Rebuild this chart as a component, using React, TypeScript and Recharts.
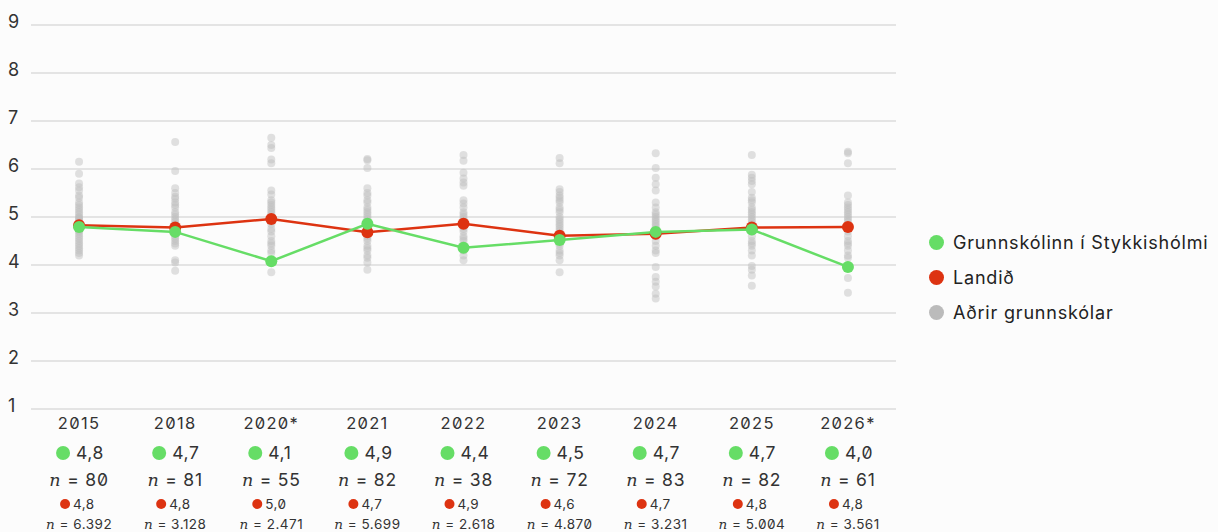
import React from 'react';
import { ComposedChart, Line, Scatter, XAxis, YAxis, CartesianGrid } from 'recharts';

const years = ['2015', '2018', '2020*', '2021', '2022', '2023', '2024', '2025', '2026*'];

const schoolValues = [4.79, 4.69, 4.08, 4.86, 4.36, 4.52, 4.69, 4.74, 3.96];
const schoolLabels = ['4,8', '4,7', '4,1', '4,9', '4,4', '4,5', '4,7', '4,7', '4,0'];
const schoolCounts = ['80', '81', '55', '82', '38', '72', '83', '82', '61'];

const nationValues = [4.83, 4.78, 4.96, 4.68, 4.86, 4.61, 4.65, 4.78, 4.79];
const nationLabels = ['4,8', '4,8', '5,0', '4,7', '4,9', '4,6', '4,7', '4,8', '4,8'];
const nationCounts = ['6.392', '3.128', '2.471', '5.699', '2.618', '4.870', '3.231', '5.004', '3.561'];

// other schools, one list per year
const otherSchools = [
  [6.15, 5.9, 5.7, 5.62, 5.55, 5.45, 5.4, 5.3, 5.25, 5.2, 5.15, 5.1, 5.05, 5.0, 4.98, 4.95, 4.9, 4.87, 4.85, 4.82, 4.8, 4.78, 4.75, 4.72, 4.7, 4.65, 4.6, 4.55, 4.5, 4.45, 4.4, 4.35, 4.3, 4.25, 4.2],
  [6.56, 5.96, 5.6, 5.5, 5.42, 5.38, 5.3, 5.25, 5.2, 5.1, 5.05, 5.0, 4.95, 4.9, 4.85, 4.8, 4.75, 4.7, 4.65, 4.6, 4.55, 4.5, 4.45, 4.4, 4.1, 4.05, 3.88],
  [6.65, 6.5, 6.44, 6.2, 6.12, 5.55, 5.47, 5.35, 5.3, 5.25, 5.2, 5.15, 5.1, 5.05, 5.0, 4.95, 4.9, 4.85, 4.75, 4.7, 4.6, 4.5, 4.45, 4.4, 4.3, 4.25, 4.05, 3.85],
  [6.21, 6.18, 6.02, 5.6, 5.5, 5.45, 5.35, 5.3, 5.2, 5.15, 5.1, 5.05, 5.0, 4.95, 4.9, 4.85, 4.8, 4.7, 4.6, 4.55, 4.5, 4.4, 4.35, 4.3, 4.2, 4.15, 4.05, 3.9],
  [6.29, 6.17, 5.92, 5.8, 5.72, 5.65, 5.35, 5.28, 5.2, 5.1, 5.05, 5.0, 4.95, 4.9, 4.85, 4.8, 4.75, 4.7, 4.6, 4.55, 4.5, 4.4, 4.3, 4.2, 4.1],
  [6.23, 6.12, 5.58, 5.52, 5.45, 5.4, 5.35, 5.3, 5.2, 5.15, 5.1, 5.0, 4.95, 4.9, 4.85, 4.8, 4.75, 4.7, 4.65, 4.6, 4.55, 4.5, 4.45, 4.4, 4.3, 4.25, 4.2, 4.1, 3.85],
  [6.33, 6.02, 5.82, 5.68, 5.55, 5.3, 5.2, 5.1, 5.05, 5.0, 4.95, 4.9, 4.85, 4.8, 4.75, 4.7, 4.65, 4.6, 4.5, 4.4, 4.3, 4.25, 3.96, 3.75, 3.65, 3.55, 3.4, 3.3],
  [6.29, 5.88, 5.82, 5.75, 5.68, 5.52, 5.4, 5.35, 5.3, 5.2, 5.15, 5.1, 5.05, 5.0, 4.95, 4.9, 4.85, 4.8, 4.75, 4.7, 4.6, 4.5, 4.45, 4.4, 4.3, 4.2, 3.98, 3.9, 3.78, 3.57],
  [6.36, 6.33, 6.12, 5.45, 5.3, 5.25, 5.2, 5.15, 5.1, 5.05, 5.0, 4.95, 4.9, 4.7, 4.6, 4.5, 4.45, 4.4, 4.3, 4.2, 4.15, 3.73, 3.42],
];

const yTicks = [1, 2, 3, 4, 5, 6, 7, 8, 9];

const legendItems = [
  { name: 'Grunnskólinn í Stykkishólmi', color: '#66dd66' },
  { name: 'Landið', color: '#dd3311' },
  { name: 'Aðrir grunnskólar', color: '#bbbbbb' },
];

const GREEN = '#66dd66';
const RED = '#dd3311';
const FONT = 'Inter, "Noto Sans", sans-serif';

const rows = years.map((year, i) => ({ i, year, school: schoolValues[i], nation: nationValues[i] }));
const grayPoints = otherSchools.flatMap((vals, i) => vals.map((v) => ({ i, v })));

const NItalic = () => (
  <tspan fontStyle="italic" fontFamily='"DejaVu Serif", serif'>n</tspan>
);

const XTick = (props: any) => {
  const { x, y, payload } = props;
  const i = payload.value;
  return (
    <g transform={`translate(${x},${y})`} fontFamily={FONT} fill="#333">
      <text x={0} y={14} dy="0.35em" textAnchor="middle" fontSize={16.5} letterSpacing={1.3}>{years[i]}</text>
      <circle cx={-16} cy={44} r={7} fill={GREEN} />
      <text x={-3} y={44} dy="0.35em" fontSize={17.5} letterSpacing={0.6}>{schoolLabels[i]}</text>
      <text x={0} y={71} dy="0.35em" textAnchor="middle" fontSize={17.5} letterSpacing={0.8}>
        <NItalic /> = {schoolCounts[i]}
      </text>
      <circle cx={-14} cy={95} r={5} fill={RED} />
      <text x={-6} y={95} dy="0.35em" fontSize={13.5} letterSpacing={0.4}>{nationLabels[i]}</text>
      <text x={0} y={115} dy="0.35em" textAnchor="middle" fontSize={13.5} letterSpacing={0.5}>
        <NItalic /> = {nationCounts[i]}
      </text>
    </g>
  );
};

const YTick = (props: any) => {
  const { y, payload } = props;
  return (
    <text x={8} y={y - 3} dy="0.35em" fontSize={18} fill="#333" fontFamily={FONT}>
      {payload.value}
    </text>
  );
};

const GrayDot = (props: any) => (
  <circle cx={props.cx} cy={props.cy} r={4} fill="#bdbdbd" fillOpacity={0.45} />
);

export default function App() {
  return (
    <div
      style={{
        position: 'relative',
        width: 1218,
        height: 532,
        background: '#fcfcfc',
        fontFamily: FONT,
        fontFeatureSettings: '"zero" 1',
      }}
    >
      <style>{`body{margin:0;background:#fcfcfc}`}</style>
      <ComposedChart
        width={1218}
        height={532}
        data={rows}
        margin={{ top: 25, right: 322, bottom: 0, left: 0 }}
      >
        <CartesianGrid vertical={false} stroke="#dddddd" strokeWidth={1.5} />
        <XAxis
          dataKey="i"
          type="number"
          domain={[-0.5, 8.5]}
          ticks={[0, 1, 2, 3, 4, 5, 6, 7, 8]}
          interval={0}
          height={123}
          axisLine={false}
          tickLine={false}
          tickSize={0}
          tickMargin={0}
          tick={<XTick />}
        />
        <YAxis
          type="number"
          domain={[1, 9]}
          ticks={yTicks}
          width={31}
          axisLine={false}
          tickLine={false}
          tick={<YTick />}
        />
        <Scatter data={grayPoints} dataKey="v" shape={<GrayDot />} isAnimationActive={false} />
        <Line
          dataKey="nation"
          stroke={RED}
          strokeWidth={2.5}
          dot={{ r: 6, fill: RED, stroke: RED, strokeWidth: 0 }}
          activeDot={false}
          isAnimationActive={false}
        />
        <Line
          dataKey="school"
          stroke={GREEN}
          strokeWidth={2.5}
          dot={{ r: 6, fill: GREEN, stroke: GREEN, strokeWidth: 0 }}
          activeDot={false}
          isAnimationActive={false}
        />
      </ComposedChart>
      <div style={{ position: 'absolute', left: 929, top: 225 }}>
        {legendItems.map((item) => (
          <div
            key={item.name}
            style={{
              display: 'flex',
              alignItems: 'center',
              height: 35,
              fontSize: 18,
              letterSpacing: 0.8,
              color: '#222',
              whiteSpace: 'nowrap',
            }}
          >
            <span
              style={{
                display: 'inline-block',
                flex: 'none',
                width: 15,
                height: 15,
                borderRadius: '50%',
                background: item.color,
                marginRight: 9,
              }}
            />
            {item.name}
          </div>
        ))}
      </div>
    </div>
  );
}
